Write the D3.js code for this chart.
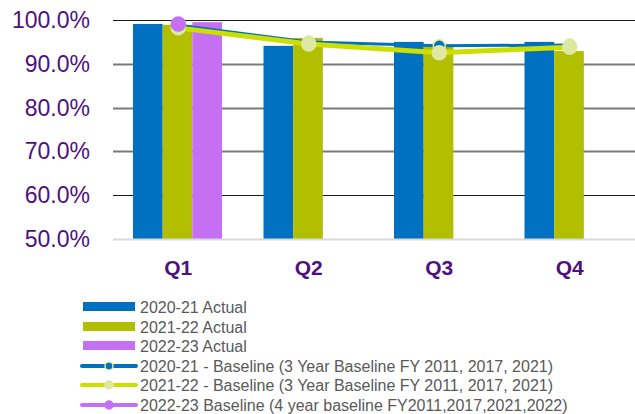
<!DOCTYPE html>
<html>
<head>
<meta charset="utf-8">
<script src="https://cdn.jsdelivr.net/npm/d3@7"></script>
<style>
  body { margin: 0; background: #fff; }
  svg { display: block; font-family: "Liberation Sans", Arial, sans-serif; }
</style>
</head>
<body>
<script>
var quarters = ["Q1", "Q2", "Q3", "Q4"];
var yTicks = [50, 60, 70, 80, 90, 100];

// bars
var actual2021 = [99.1, 94.1, 95.0, 95.0];
var actual2122 = [98.9, 95.9, 94.3, 92.9];
var actual2223 = [99.5, null, null, null];

// baselines
var base2021 = [98.8, 95.0, 94.1, 94.3];
var base2122 = [98.2, 94.5, 92.5, 93.8];
var base2223 = [99.1, null, null, null];

var barSeries = [
  { name: "2020-21 Actual", color: "#0070c0", values: actual2021 },
  { name: "2021-22 Actual", color: "#b2be00", values: actual2122 },
  { name: "2022-23 Actual", color: "#c56ff3", values: actual2223 }
];
var lineSeries = [
  { name: "2020-21 - Baseline (3 Year Baseline FY 2011, 2017, 2021)", color: "#0070c0", width: 3, marker: "#0070c0", ring: "#dfe8a0", r: 6, values: base2021 },
  { name: "2021-22 - Baseline (3 Year Baseline FY 2011, 2017, 2021)", color: "#cddf00", width: 5, marker: "#dfe8a0", ring: "#dfe8a0", r: 7, values: base2122 },
  { name: "2022-23 Baseline (4 year baseline FY2011,2017,2021,2022)", color: "#c56ff3", width: 4, marker: "#c56ff3", ring: "#c56ff3", r: 7, values: base2223 }
];

var width = 635, height = 414;
var margin = { left: 113, right: 0, top: 20, bottom: 175 };

var svg = d3.select("body").append("svg")
  .attr("width", width)
  .attr("height", height);

var x = d3.scaleBand().domain(quarters).range([margin.left, width - margin.right]);
var xInner = d3.scaleBand().domain([0, 1, 2]).range([0, 89]);
var y = d3.scaleLinear().domain([50, 100]).range([239, 20]);

// grid
svg.append("g").selectAll("line").data(yTicks.slice(1)).enter().append("line")
  .attr("x1", margin.left).attr("x2", width)
  .attr("y1", function(d) { return Math.round(y(d)) + 0.5; })
  .attr("y2", function(d) { return Math.round(y(d)) + 0.5; })
  .attr("stroke", function(d) { return (d == 100 || d == 60) ? "#1a1a1a" : "#7a7a7a"; })
  .attr("stroke-width", function(d) { return (d == 100 || d == 60) ? 1.2 : 1.8; });

// y labels
svg.append("g").selectAll("text").data(yTicks).enter().append("text")
  .attr("x", 90)
  .attr("y", function(d) { return y(d); })
  .attr("dy", "0.35em")
  .attr("text-anchor", "end")
  .attr("font-size", "23px")
  .attr("fill", "#4e1080")
  .text(function(d) { return d3.format(".1f")(d) + "%"; });

// bars
barSeries.forEach(function(s, i) {
  svg.append("g").selectAll("rect")
    .data(s.values.map(function(v, j) { return { q: quarters[j], v: v }; }).filter(function(d) { return d.v != null; }))
    .enter().append("rect")
    .attr("x", function(d) { return x(d.q) + 20 + xInner(i); })
    .attr("width", xInner.bandwidth())
    .attr("y", function(d) { return y(d.v); })
    .attr("height", function(d) { return y(50) - y(d.v); })
    .attr("fill", s.color);
});

// axis baseline
svg.append("line")
  .attr("x1", margin.left).attr("x2", width)
  .attr("y1", 239.5).attr("y2", 239.5)
  .attr("stroke", "#d9d9d9").attr("stroke-width", 2);

// x labels
svg.append("g").selectAll("text").data(quarters).enter().append("text")
  .attr("x", function(d) { return x(d) + x.bandwidth() / 2; })
  .attr("y", 275)
  .attr("text-anchor", "middle")
  .attr("font-size", "21px")
  .attr("font-weight", "bold")
  .attr("fill", "#4e1080")
  .text(function(d) { return d; });

// baseline lines
var line = d3.line()
  .defined(function(d) { return d.v != null; })
  .x(function(d) { return x(d.q) + x.bandwidth() / 2; })
  .y(function(d) { return y(d.v); });

lineSeries.forEach(function(s) {
  var pts = s.values.map(function(v, j) { return { q: quarters[j], v: v }; });
  svg.append("path")
    .datum(pts)
    .attr("fill", "none")
    .attr("stroke", s.color)
    .attr("stroke-width", s.width)
    .attr("d", line);
  svg.append("g").selectAll("circle")
    .data(pts.filter(function(d) { return d.v != null; }))
    .enter().append("circle")
    .attr("cx", function(d) { return x(d.q) + x.bandwidth() / 2; })
    .attr("cy", function(d) { return y(d.v); })
    .attr("r", s.r)
    .attr("fill", s.marker)
    .attr("stroke", s.ring)
    .attr("stroke-width", 1.5);
});

// legend
var legend = svg.append("g").attr("font-size", "16px").attr("fill", "#595959");
var rowY = [307, 327, 346, 366, 385, 405];

barSeries.forEach(function(s, i) {
  legend.append("rect")
    .attr("x", 83).attr("y", rowY[i] - 5)
    .attr("width", 52).attr("height", 9)
    .attr("fill", s.color);
  legend.append("text")
    .attr("x", 140).attr("y", rowY[i]).attr("dy", "0.35em")
    .text(s.name);
});

lineSeries.forEach(function(s, k) {
  var ry = rowY[k + 3];
  legend.append("line")
    .attr("x1", 82).attr("x2", 136)
    .attr("y1", ry).attr("y2", ry)
    .attr("stroke", s.color).attr("stroke-width", 4)
    .attr("stroke-linecap", "round");
  legend.append("circle")
    .attr("cx", 109).attr("cy", ry).attr("r", 4)
    .attr("fill", s.marker)
    .attr("stroke", s.ring).attr("stroke-width", 1.5);
  legend.append("text")
    .attr("x", 140).attr("y", ry).attr("dy", "0.35em")
    .text(s.name);
});
</script>
</body>
</html>
